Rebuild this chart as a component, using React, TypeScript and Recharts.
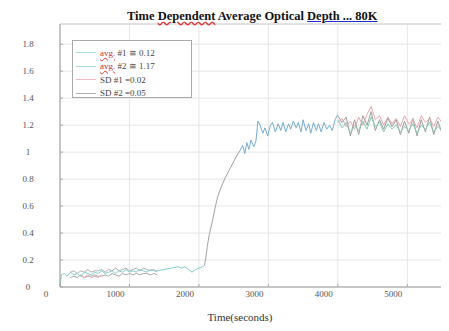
import React from "react";
import { LineChart, Line, XAxis, YAxis, CartesianGrid, ReferenceLine } from "recharts";

const xTicks = [0, 1000, 2000, 3000, 4000, 5000];
const yTicks = [0, 0.2, 0.4, 0.6, 0.8, 1, 1.2, 1.4, 1.6, 1.8];

// low plateau, run #1
const lowTime = [0, 20, 60, 100, 150, 200, 250, 300, 350, 400, 450, 500, 550, 600, 650, 700, 750, 800, 850, 900, 950, 1000, 1050, 1100, 1150, 1200, 1250, 1300, 1350, 1400, 1500, 1600, 1700, 1750, 1800, 1850, 1900, 1950, 2000, 2050, 2080];
const lowValue = [0.0, 0.09, 0.1, 0.08, 0.11, 0.09, 0.1, 0.08, 0.11, 0.1, 0.09, 0.11, 0.1, 0.12, 0.1, 0.11, 0.12, 0.1, 0.12, 0.11, 0.13, 0.11, 0.12, 0.11, 0.13, 0.12, 0.11, 0.13, 0.12, 0.12, 0.13, 0.14, 0.15, 0.14, 0.15, 0.13, 0.11, 0.13, 0.14, 0.15, 0.16];

// transition
const riseTime = [2080, 2100, 2120, 2150, 2190, 2230, 2270, 2320, 2370, 2430, 2490, 2540, 2590];
const riseValue = [0.16, 0.22, 0.3, 0.39, 0.48, 0.58, 0.67, 0.74, 0.8, 0.86, 0.92, 0.97, 1.01];

// high plateau
const highTime = [2590, 2630, 2660, 2690, 2720, 2750, 2790, 2820, 2850, 2880, 2920, 2950, 2990, 3030, 3060, 3100, 3140, 3180, 3210, 3250, 3290, 3320, 3360, 3400, 3430, 3470, 3500, 3540, 3580, 3610, 3650, 3690, 3720, 3760, 3800, 3840, 3880, 3920, 3960, 4000];
const highValue = [1.01, 1.05, 0.99, 1.07, 1.02, 1.09, 1.04, 1.08, 1.23, 1.2, 1.14, 1.18, 1.12, 1.2, 1.22, 1.15, 1.21, 1.16, 1.22, 1.15, 1.21, 1.17, 1.23, 1.18, 1.22, 1.15, 1.24, 1.16, 1.21, 1.14, 1.22, 1.16, 1.21, 1.15, 1.22, 1.17, 1.2, 1.16, 1.24, 1.28];

// averaging window #2
const bandTime = [4000, 4060, 4120, 4180, 4240, 4300, 4360, 4420, 4480, 4540, 4600, 4660, 4720, 4780, 4840, 4900, 4960, 5020, 5080, 5140, 5200, 5260, 5320, 5380, 5440, 5500, 5560, 5600];
const avg2Value = [1.24, 1.18, 1.22, 1.14, 1.2, 1.16, 1.23, 1.17, 1.26, 1.19, 1.22, 1.15, 1.21, 1.17, 1.2, 1.15, 1.19, 1.16, 1.21, 1.14, 1.2, 1.17, 1.22, 1.15, 1.19, 1.16, 1.21, 1.18];
const sd2Value = [1.27, 1.22, 1.26, 1.12, 1.24, 1.13, 1.27, 1.2, 1.3, 1.16, 1.24, 1.17, 1.25, 1.19, 1.24, 1.13, 1.23, 1.14, 1.25, 1.12, 1.24, 1.15, 1.26, 1.13, 1.23, 1.14, 1.25, 1.2];
const sd1HighValue = [1.22, 1.25, 1.19, 1.23, 1.17, 1.26, 1.2, 1.28, 1.34, 1.24, 1.27, 1.2, 1.26, 1.21, 1.25, 1.19, 1.27, 1.21, 1.24, 1.18, 1.27, 1.22, 1.25, 1.19, 1.26, 1.22, 1.24, 1.21];

// averaging window #1
const lowBandTime = [150, 200, 250, 300, 350, 400, 450, 500, 550, 600, 650, 700, 750, 800, 850, 900, 950, 1000, 1050, 1100, 1150, 1200, 1250, 1300, 1350, 1400];
const lowUpperValue = [0.11, 0.12, 0.1, 0.12, 0.11, 0.13, 0.11, 0.12, 0.12, 0.13, 0.11, 0.13, 0.12, 0.14, 0.12, 0.13, 0.14, 0.12, 0.13, 0.14, 0.12, 0.14, 0.13, 0.12, 0.13, 0.11];
const lowLowerValue = [0.07, 0.08, 0.07, 0.09, 0.07, 0.08, 0.08, 0.09, 0.08, 0.08, 0.09, 0.08, 0.1, 0.09, 0.08, 0.1, 0.09, 0.1, 0.09, 0.1, 0.09, 0.1, 0.1, 0.09, 0.1, 0.09];
const sd1LowTime = [300, 350, 400, 450, 500, 550, 600];
const sd1LowValue = [0.08, 0.07, 0.09, 0.07, 0.08, 0.07, 0.09];

const legendItems = [
  { tag: "avg.", text: " #1 \u2245 0.12", color: "#a6dede" },
  { tag: "avg.", text: " #2 \u2245 1.17", color: "#acdcca" },
  { tag: "", text: "SD #1 =0.02", color: "#f0b8c0" },
  { tag: "", text: "SD #2 =0.05", color: "#b0b0b0" },
];

const zip = (t: number[], v: number[]) => t.map((x, i) => ({ t: x, v: v[i] }));

const SERIF = '"Liberation Serif", "DejaVu Serif", serif';

const series = [
  { key: "lowLower", data: zip(lowBandTime, lowLowerValue), color: "#a9a9a9" },
  { key: "lowUpper", data: zip(lowBandTime, lowUpperValue), color: "#b0b0b0" },
  { key: "sd1Low", data: zip(sd1LowTime, sd1LowValue), color: "#e8a6b0" },
  { key: "low", data: zip(lowTime, lowValue), color: "#86cccc" },
  { key: "rise", data: zip(riseTime, riseValue), color: "#a2a2a2" },
  { key: "high", data: zip(highTime, highValue), color: "#74aed2" },
  { key: "sd2", data: zip(bandTime, sd2Value), color: "#9c9c9c" },
  { key: "sd1High", data: zip(bandTime, sd1HighValue), color: "#e9a7b1" },
  { key: "avg2", data: zip(bandTime, avg2Value), color: "#86ccb8" },
];

const YTick = (props: any) => {
  const { x, y, payload } = props;
  return (
    <g>
      <line x1={x} x2={x + 3} y1={y} y2={y} stroke="#aaa" />
      <text x={x - 32} y={y} dy={3} textAnchor="middle" fontSize={9} fill="#555" fontFamily={SERIF}>
        {payload.value}
      </text>
    </g>
  );
};

const XTick = (props: any) => {
  const { x, y, payload } = props;
  return (
    <g>
      <line x1={x} x2={x} y1={y} y2={y - 3} stroke="#aaa" />
      <text x={x - 14} y={y + 10} textAnchor="middle" fontSize={9} fill="#555" fontFamily={SERIF}>
        {payload.value}
      </text>
    </g>
  );
};

export default function App() {
  return (
    <div style={{ position: "relative", width: 449, height: 331, margin: -8, background: "#fff", overflow: "hidden", fontFamily: SERIF }}>
      <LineChart width={449} height={331} margin={{ top: 24, right: 0, bottom: 14, left: 0 }}>
        <CartesianGrid stroke="#e6e6e6" />
        <ReferenceLine y={1.95} stroke="#d0d0d0" />
        <XAxis
          type="number"
          dataKey="t"
          domain={[0, 5600]}
          ticks={xTicks}
          allowDataOverflow
          height={30}
          tickSize={0}
          tickMargin={0}
          tickLine={false}
          axisLine={{ stroke: "#999" }}
          tick={<XTick />}
        />
        <YAxis
          type="number"
          domain={[0, 1.95]}
          ticks={yTicks}
          allowDataOverflow
          width={60}
          tickSize={0}
          tickMargin={0}
          tickLine={false}
          axisLine={{ stroke: "#999" }}
          tick={<YTick />}
        />
        {series.map((s) => (
          <Line
            key={s.key}
            data={s.data}
            dataKey="v"
            type="linear"
            stroke={s.color}
            strokeWidth={1}
            dot={false}
            isAnimationActive={false}
          />
        ))}
      </LineChart>

      <div style={{ position: "absolute", left: 127, top: 9, fontSize: 12.5, fontWeight: 700, color: "#111", whiteSpace: "nowrap" }}>
        Time{" "}
        <span style={{ textDecoration: "underline wavy #e03030" }}>Dependent</span>
        {" "}Average Optical{" "}
        <span style={{ textDecoration: "underline #2030d0" }}>Depth ... 80K</span>
      </div>

      <div
        style={{
          position: "absolute",
          left: 72,
          top: 40,
          width: 120,
          height: 58,
          border: "1px solid #aaa",
          background: "#fff",
          boxSizing: "border-box",
          paddingTop: 5,
        }}
      >
        {legendItems.map((it) => (
          <div key={it.text} style={{ display: "flex", alignItems: "center", height: 13.5, fontSize: 9, color: "#444" }}>
            <div style={{ width: 20, height: 1, marginLeft: 3, marginRight: 4, background: it.color }} />
            <span>
              {it.tag && <span style={{ textDecoration: "underline wavy #e03030", color: "#c03030" }}>{it.tag}</span>}
              {it.text}
            </span>
          </div>
        ))}
      </div>

      <div style={{ position: "absolute", left: 0, width: 480, top: 311, lineHeight: "12px", textAlign: "center", fontSize: 11, color: "#333" }}>
        Time(seconds)
      </div>
    </div>
  );
}
